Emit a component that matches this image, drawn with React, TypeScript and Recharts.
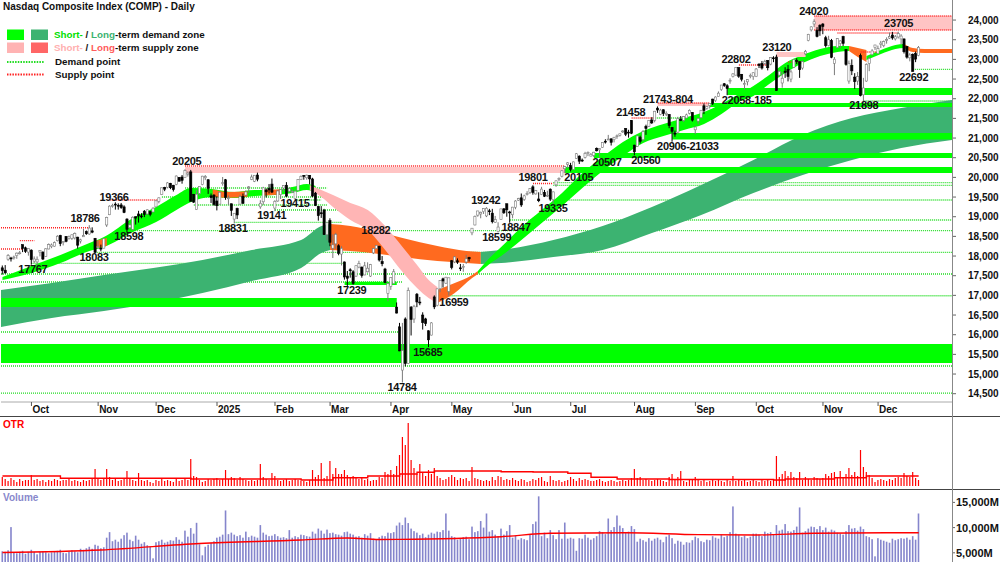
import React from 'react';
import { ComposedChart, Bar, Area, Line, XAxis, YAxis, ReferenceArea, ReferenceLine, ReferenceDot } from 'recharts';

const FONT = '"Liberation Sans", Arial, Helvetica, sans-serif';

// ---------- daily candles [open, high, low, close] ----------
const sep24 = [
  [17700,17760,17530,17628],[17640,17770,17550,17573],[17920,18050,17880,18013],[17950,17980,17860,17948],
  [17960,18010,17910,17974],[18010,18090,17930,18074],[18070,18130,18040,18082],[18290,18290,18100,18190],
  [18210,18240,18080,18119],[18100,18190,18010,18189],
];
const oct24 = [
  [18150,18170,17780,17910],[17870,17990,17820,17925],[17850,17990,17767,17918],[18100,18140,17990,18138],
  [18100,18120,17900,17923],[17990,18200,17980,18183],[18180,18320,18170,18292],[18240,18320,18200,18282],
  [18250,18370,18240,18343],[18390,18530,18370,18503],[18520,18540,18250,18316],[18350,18380,18270,18367],
  [18500,18500,18350,18374],[18440,18520,18420,18490],[18450,18550,18410,18540],[18460,18600,18420,18573],
  [18480,18490,18190,18277],[18380,18440,18320,18415],[18490,18690,18490,18519],[18620,18650,18540,18567],
  [18560,18786,18540,18712],[18640,18730,18580,18607],[18450,18460,18083,18095],
];
const nov24 = [
  [18230,18390,18190,18239],[18200,18290,18120,18179],[18200,18460,18200,18439],[18790,19000,18740,18983],
  [19050,19290,19040,19269],[19280,19330,19230,19287],[19320,19366,19180,19298],[19290,19340,19180,19281],
  [19300,19350,19200,19231],[19250,19290,19090,19107],[18940,18960,18598,18680],[18720,18840,18690,18791],
  [18680,19010,18650,18987],[19000,19000,18800,18966],[19070,19150,18850,19016],[19020,19090,18960,19004],
  [19140,19170,18990,19055],[19070,19190,19040,19175],[19130,19150,19010,19060],[19120,19240,19110,19218],
];
const dec24 = [
  [19250,19420,19240,19404],[19390,19490,19340,19480],[19560,19740,19550,19735],[19740,19760,19650,19701],
  [19750,19880,19720,19860],[19850,19860,19700,19737],[19800,19810,19640,19687],[19820,20050,19800,20034],
  [20000,20010,19900,19902],[20010,20060,19840,19926],[20000,20205,20000,20173],[20080,20150,20020,20109],
  [20140,20190,19390,19393],[19560,19580,19350,19372],[19180,19690,19170,19573],[19590,19770,19530,19764],
  [19820,20040,19800,20031],[19990,20060,19930,20020],[19940,19950,19580,19722],[19530,19590,19350,19487],
  [19550,19570,19280,19311],
];
const jan25 = [
  [19400,19520,19160,19280],[19320,19640,19310,19622],[19850,20010,19790,19864],[19940,19960,19430,19490],
  [19460,19540,19300,19479],[19330,19330,19020,19162],[18940,19090,18831,19088],[19210,19230,18940,19044],
  [19320,19560,19310,19511],[19520,19590,19330,19339],[19550,19670,19520,19630],[19740,19780,19600,19757],
  [19950,20070,19930,20009],[19900,20060,19880,20054],[20060,20120,19900,19954],[19250,19420,19200,19342],
  [19380,19760,19300,19734],[19680,19720,19490,19633],[19720,19830,19590,19681],[19830,19970,19600,19627],
];
const feb25 = [
  [19220,19420,19141,19392],[19400,19680,19380,19654],[19560,19700,19450,19692],[19730,19800,19640,19791],
  [19800,19880,19500,19523],[19650,19740,19620,19714],[19640,19700,19600,19643],[19460,19670,19415,19649],
  [19670,19950,19660,19945],[19940,20050,19940,20027],[20050,20060,19940,20041],[19990,20070,19940,20056],
  [20050,20060,19820,19962],[19960,19990,19500,19524],[19600,19630,19270,19286],[19260,19270,18900,19026],
  [19100,19270,18970,19075],[19170,19200,18540,18544],[18540,18850,18400,18847],
];
const mar25 = [
  [18900,18960,18250,18350],[18200,18550,17950,18285],[18310,18590,18180,18553],[18260,18300,18020,18069],
  [18050,18250,17760,18196],[17850,17860,17400,17468],[17490,17620,17239,17436],[17650,17690,17450,17648],
  [17600,17640,17270,17303],[17490,17760,17470,17754],[17720,17880,17690,17808],[17720,17730,17450,17504],
  [17520,17850,17510,17751],[17600,17840,17580,17691],[17490,17800,17470,17784],[18080,18200,18050,18189],
  [18190,18282,18180,18272],[18250,18260,17860,17899],[17860,18000,17740,17804],[17670,17700,17310,17323],
  [17050,17320,16850,17299],
];
const apr25 = [
  [17230,17460,17140,17450],[17300,17670,17290,17601],[16700,16820,16540,16551],[16200,16300,15580,15588],
  [15100,16300,14784,15603],[16400,16440,15195,15268],[15270,17200,15260,17125],[16700,16730,15980,16387],
  [16400,16760,16300,16724],[17030,17060,16700,16832],[16830,16960,16750,16824],[16500,16570,16130,16307],
  [16400,16430,16220,16287],[16100,16110,15685,15870],[15990,16320,15980,16300],[16960,17000,16650,16708],
  [16750,17170,16720,17166],[17170,17390,17080,17383],[17420,17450,17200,17366],[17310,17470,17290,17462],
  [17100,17450,16990,17446],
];
const may25 = [
  [17880,17900,17660,17711],[17850,18000,17820,17978],[17880,17940,17800,17844],[17700,17800,17620,17690],
  [17730,17800,17600,17738],[17850,18030,17800,17929],[17960,17980,17860,17929],[18590,18710,18530,18708],
  [18790,19030,18780,19010],[19040,19150,19000,19146],[19070,19130,18960,19112],[19130,19220,19070,19211],
  [19020,19242,18990,19215],[19150,19200,19040,19143],[19090,19200,18830,18873],[18860,19020,18840,18925],
  [18620,18860,18599,18737],[18930,19200,18920,19199],[19200,19220,19070,19101],[19330,19330,19000,19175],
  [19120,19150,18847,19114],
];
const jun25 = [
  [19050,19250,18960,19243],[19240,19420,19190,19399],[19420,19480,19400,19460],[19480,19590,19250,19299],
  [19440,19560,19400,19530],[19580,19650,19540,19591],[19620,19730,19580,19715],[19760,19801,19560,19615],
  [19580,19680,19560,19662],[19450,19620,19370,19407],[19560,19760,19550,19701],[19620,19680,19500,19521],
  [19530,19660,19500,19546],[19700,19720,19400,19447],[19430,19640,19335,19631],[19810,19920,19760,19913],
  [19960,20000,19900,19973],[20030,20180,20000,20168],[20220,20290,20105,20273],[20330,20390,20240,20369],
];
const jul25 = [
  [20300,20370,20150,20203],[20200,20400,20190,20394],[20480,20620,20470,20601],[20540,20560,20340,20412],
  [20440,20480,20390,20418],[20510,20650,20480,20611],[20620,20660,20540,20630],[20540,20620,20540,20586],
  [20560,20650,20520,20640],[20740,20760,20660,20677],[20700,20740,20507,20730],[20760,20890,20750,20885],
  [20920,20970,20860,20896],[20960,21080,20950,20974],[20980,20990,20810,20892],[20960,21030,20890,21020],
  [21050,21090,20980,21057],[21070,21110,21040,21108],[21170,21200,21130,21179],[21240,21250,21050,21098],
  [21150,21210,21010,21130],[21450,21458,21100,21122],
];
const aug25 = [
  [20820,20830,20560,20650],[20790,21060,20780,21053],[21010,21060,20860,20916],[20960,21200,20920,21169],
  [21300,21340,21080,21243],[21300,21460,21280,21450],[21460,21530,21360,21385],[21450,21690,21400,21682],
  [21760,21804,21640,21713],[21600,21743,21580,21710],[21720,21730,21560,21623],[21600,21680,21560,21630],
  [21600,21610,21250,21315],[21270,21280,20906,21172],[21130,21190,21033,21100],[21150,21540,21110,21496],
  [21480,21560,21430,21449],[21450,21560,21410,21544],[21510,21620,21500,21590],[21630,21730,21600,21705],
  [21650,21660,21420,21456],
];
const sep25 = [
  [21210,21300,21100,21280],[21430,21510,21350,21498],[21520,21710,21500,21707],[21820,21880,21610,21700],
  [21750,21820,21720,21799],[21830,21880,21750,21879],[21990,22000,21840,21886],[21950,22060,21920,22043],
  [22060,22185,22058,22141],[22230,22350,22200,22348],[22380,22400,22300,22333],[22330,22370,22090,22261],
  [22450,22520,22380,22470],[22560,22650,22540,22631],[22600,22800,22590,22789],[22790,22802,22530,22573],
  [22620,22630,22440,22497],[22360,22470,22230,22384],[22430,22500,22340,22484],[22580,22640,22520,22591],
  [22560,22670,22480,22660],
];
const oct25 = [
  [22560,22780,22550,22755],[22880,22900,22780,22845],[22900,22960,22740,22780],[22900,22990,22850,22942],
  [22970,22980,22720,22788],[22880,23050,22850,23043],[23040,23080,22930,23024],[23060,23120,22200,22204],
  [22600,22720,22550,22695],[22400,22680,22280,22521],[22700,22800,22530,22670],[22750,22860,22440,22562],
  [22500,22740,22420,22680],[22800,23010,22780,22991],[22970,23030,22880,22953],[22940,22950,22530,22740],
  [22780,22970,22740,22942],[23140,23240,23110,23205],[23480,23650,23460,23637],[23750,23840,23710,23827],
  [23900,24020,23820,23958],[23740,23820,23560,23581],[23870,23890,23600,23725],
];
const nov25 = [
  [23900,23920,23640,23835],[23550,23600,23300,23349],[23350,23600,23330,23499],[23480,23520,23030,23054],
  [22900,23060,22600,23005],[23300,23540,23280,23528],[23400,23490,23290,23468],[23580,23600,23340,23406],
  [23250,23260,22840,22871],[22450,22970,22380,22901],[22850,23000,22600,22708],[22550,22650,22250,22433],
  [22450,22680,22350,22564],[23100,23150,22060,22078],[22100,22530,21898,22273],[22450,22900,22430,22872],
  [22900,23070,22700,23025],[23120,23260,23100,23215],[23300,23370,23240,23366],
];
const dec25 = [
  [23150,23350,23140,23276],[23380,23470,23290,23414],[23350,23480,23310,23454],[23500,23560,23400,23505],
  [23540,23680,23520,23578],[23620,23700,23500,23545],[23520,23620,23480,23576],[23570,23705,23530,23654],
  [23520,23640,23380,23593],[23520,23530,23150,23195],[23330,23340,23020,23057],[23040,23160,22950,23111],
  [23130,23150,22692,22693],[23150,23200,22930,23006],[23100,23340,23080,23307],
];

// ---------- OTR (panel units) ----------
const otrValues = [
  9,7,5,8,6,4,7,5,6,6,
  11,6,7,5,6,4,6,5,7,6,5,6,6,7,5,6,5,4,6,5,6,8,17,
  7,6,8,17,9,6,7,5,6,7,15,7,6,5,13,6,5,6,4,3,
  6,5,7,5,6,5,4,7,5,6,7,6,27,10,9,6,4,5,7,6,7,
  8,6,7,16,7,9,8,6,9,7,6,5,6,5,6,22,9,7,6,13,
  10,6,5,6,7,5,6,7,6,5,5,4,6,16,9,11,23,8,10,
  25,12,18,12,12,16,11,9,10,8,7,9,6,7,5,6,6,9,8,14,12,
  16,12,20,31,49,41,63,26,18,12,22,14,10,16,12,18,10,8,6,7,9,
  11,9,6,8,7,8,5,19,8,7,6,5,6,5,9,6,10,9,6,7,6,
  8,6,5,7,6,4,5,7,6,8,9,5,4,10,6,5,6,4,5,6,
  9,7,5,8,6,7,6,5,5,6,7,5,4,5,6,5,4,5,6,5,6,8,
  17,8,9,6,7,6,5,6,7,6,5,4,9,12,6,9,15,5,4,6,7,
  9,6,5,6,4,5,6,5,6,5,4,6,5,10,5,6,5,6,4,5,6,
  5,4,6,5,6,5,6,30,9,12,15,10,14,9,8,14,6,9,7,6,9,8,7,
  8,12,10,13,14,9,15,9,12,18,11,14,10,36,19,14,11,8,4,
  6,7,6,5,7,6,8,9,8,13,10,9,14,8,6,
];
const otrAverage = [[0,10],[20,7.7],[65,7],[103,6],[114,8.3],[126,10],[137,12],[143,13.7],[149,15],[172,14.3],[183,14],[195,12.7],[203,8.7],[212,7],[230,6.5],[266,6],[270,7],[287,8.3],[298,10],[316,10]];

// ---------- Volume (millions) ----------
const volumeValues = [
  5300,5200,5500,10100,5000,4900,5200,5400,4800,5200,
  5600,5200,4700,5200,5300,5100,4900,5100,5200,5400,5600,5000,4900,5200,5500,5300,5100,5800,5600,5900,6200,5800,6600,
  6400,5900,6100,8000,9100,7300,7600,7200,7800,8500,9000,7600,7300,8400,7600,6800,7100,6500,6200,3900,
  7100,7300,7600,7000,7200,7500,7400,8100,7600,7200,9400,8200,9900,8800,10950,6700,4500,6200,6600,7000,7300,
  8000,8200,8600,13400,8700,9000,8600,8300,8500,8000,9200,8100,8400,8200,8000,10500,9000,8600,8300,8400,
  8700,8300,8000,8100,7900,9500,8000,8300,8100,8600,8500,8300,8200,9200,8800,9800,9400,8800,9600,
  8900,9000,8700,8600,8400,9100,9200,8800,8600,8200,8300,8000,8700,8400,8900,7800,7600,8100,8400,8300,9000,
  8900,9100,10400,11000,10500,12000,10900,9800,9300,9000,8500,8800,8100,8600,9000,8800,9200,9100,9500,12800,9400,
  8300,8100,7600,7800,8100,8200,7700,10200,9100,9300,11300,10000,12800,9200,9500,8600,8300,9800,8600,9300,10500,
  8000,8400,7600,7900,7700,7500,8700,10700,11200,16200,8300,9000,7900,9500,8500,7700,9500,7800,11000,7800,
  8000,7800,5400,7900,7800,8600,8000,7600,7900,8300,9300,9100,8700,11800,9500,10100,12400,10400,9900,9000,9200,10300,
  9700,7200,7800,7500,7200,7900,7400,7800,8000,7600,7100,8200,8600,7900,6800,7400,7200,6600,7100,7000,7500,
  8200,7900,7300,7100,7600,7500,8300,8000,7800,8600,8100,8400,9100,14200,8800,8500,8100,8400,7900,8200,8800,
  8800,8600,8300,9200,8900,9100,8700,10500,9400,9600,10700,9300,9200,9500,10200,14000,9000,9300,9800,10200,10100,9700,10300,
  9500,10000,9200,9600,9400,9000,8800,8600,9300,10500,9800,9900,9400,10200,9700,8300,8100,7700,4300,
  7900,7600,7400,7200,7000,7800,7500,7700,7900,7800,8000,7600,8300,7600,12800,
];
const volumeAverage = [[0,5050],[34,5550],[68,6840],[103,7540],[119,7950],[130,7650],[137,7670],[172,8190],[189,8870],[215,8990],[240,8600],[260,8530],[280,8870],[316,8990]];

// ---------- axis labels ----------
const monthStarts = [10,33,53,74,94,113,134,155,176,196,218,239,260,283,302];
const monthLabels = ['Oct','Nov','Dec','2025','Feb','Mar','Apr','May','Jun','Jul','Aug','Sep','Oct','Nov','Dec'];
const priceTicks = [14500,15000,15500,16000,16500,17000,17500,18000,18500,19000,19500,20000,20500,21000,21500,22000,22500,23000,23500,24000];
const volumeTicks = [5000,10000,15000];

// ---------- moving zones [index, low, high] ----------
const longDemandEarly = [[-0.5,16196,17136],[17,16425,17315],[35,16603,17518],[52,16806,17696],[69,17060,17899],[86,17365,18154],[103,17696,18408],[110,18077,18764],[113,18154,18815]];
const longSupply = [[113,18154,18815],[120,18128,18764],[130,18052,18611],[138,17976,18459],[150,17874,18255],[160,17823,18128],[165,17798,18103]];
const longDemandLate = [[165,17798,18103],[172,17823,18154],[190,17976,18408],[207,18154,18764],[224,18586,19247],[241,19044,19806],[259,19603,20442],[276,20061,21077],[293,20442,21510],[310,20747,21764],[327.5,20950,21967]];
const shortDemandA = [[0,17391,17467],[10,17569,17747],[20,17823,18026],[30,18128,18331],[35,18230,18484],[45,18611,18967],[53,18865,19247],[60,19171,19552],[65,19374,19730],[72,19501,19705],[80,19476,19628],[87,19527,19679],[94,19552,19679],[100,19603,19755],[105,19679,19832],[108,19628,19781]];
const shortTurnA = [[32,18200,18380],[34,18220,18420],[36,18260,18460]];
const shortTurnB = [[72.5,19505,19690],[78,19480,19630],[84.5,19510,19650]];
const shortTurnC = [[90,19540,19685],[93,19555,19690],[96,19565,19700]];
const shortSupply = [[106,19679,19806],[110,19501,19679],[114,19247,19552],[120,18916,19349],[126,18662,19171],[132,18154,18764],[138,17594,18230],[143,17187,17772],[147,16933,17391],[150,16806,17213]];
const shortTurnD = [[150,16806,17136],[156,17060,17315],[162,17442,17518],[164,17543,17620]];
const shortDemandB = [[164,17543,17620],[168,17798,17950],[172,18001,18230],[179,18408,18738],[186,18840,19171],[193,19272,19603],[200,19730,20111],[207,20162,20518],[214,20544,20899],[221,20874,21179],[228,21052,21357],[235,21205,21510],[242,21357,21662],[248,21611,21866],[254,21917,22120],[259,22069,22323],[264,22349,22578],[270,22654,22908],[276,22908,23112],[282,23086,23264],[288,23188,23340],[292,23213,23340]];
const shortTurnE = [[292,23213,23340],[295,23061,23290],[298,22934,23239]];
const shortDemandC = [[298,22984,23086],[303,23137,23239],[308,23264,23366],[311,23290,23391]];
const shortTurnF = [[311,23290,23391],[314,23188,23290],[318,23162,23264],[327.5,23162,23264]];

// ---------- fixed zones [from, to, low, high] ----------
const demandZones = [[-0.5,136,16704,16933],[-0.5,327.5,15280,15763],[250,327.5,22095,22273],[244,327.5,21789,21891],[231,327.5,20963,21128],[204,327.5,20493,20620],[194,327.5,20111,20264],[118,136,17264,17348]];
const supplyZones = [[63,194,20111,20264],[280,327.5,23747,24103],[267,277,23061,23188],[226,244,21815,21891]];

// ---------- points [level, from, to] ----------
const demandPoints = [[14517,-0.5,327.5],[15204,-0.5,327.5],[16069,-0.5,137],[16990,149,327.5],[17340,-0.5,138],[17543,-0.5,327.5],[17815,10,118],[18095,32,327.5],[18645,43,327.5],[18858,80,117],[18916,175,327.5],[19171,94,116],[19425,101,110],[19425,190,327.5],[19865,190,327.5],[19799,190,327.5],[21942,297,327.5],[22748,314,327.5],[19501,55,112],[19298,66,112],[21510,225,240],[19730,63,112]];
const supplyPoints = [[18179,-0.5,7],[18720,-0.5,30],[18390,6,11],[19425,37,54],[20289,63,194],[19844,183,190],[21510,217,225],[22857,254,264],[22934,271,276],[23671,288,309],[23188,296,302],[24103,280,327.5],[23747,280,327.5],[21891,226,244]];

// ---------- labels [text, index, level] ----------
const peakLabels: [string, number, number][] = [
  ['17767',10.5,17569],['18786',28.5,18865],['18083',31.6,17874],['19366',38.5,19399],['18598',43.6,18408],
  ['20205',63.6,20315],['18831',79.5,18611],['19141',92.9,18942],['19415',100.9,19247],['18282',128.8,18560],
  ['17239',120.5,17035],['14784',137.8,14568],['15685',146.7,15458],['16959',155.7,16730],['19242',166.7,19323],
  ['18599',170.5,18382],['18847',177.1,18637],['19801',183,19908],['19335',189.9,19120],['20105',198.8,19908],
  ['20507',208.5,20289],['20560',221.9,20340],['21458',216.7,21561],['21743-804',229.5,21891],['20906-21033',236.4,20696],
  ['22058-185',256.7,21866],['22802',253,22908],['23120',267.1,23213],['24020',279.8,24129],['23705',309.1,23824],
  ['21898',297.1,21739],['22692',314.3,22451],
];

const candles = [...sep24, ...oct24, ...nov24, ...dec24, ...jan25, ...feb25, ...mar25, ...apr25, ...may25, ...jun25, ...jul25, ...aug25, ...sep25, ...oct25, ...nov25, ...dec25];
const SLOTS = 328;
const rows = Array.from({ length: SLOTS }, (_, i) => {
  const k = candles[i];
  return k ? { i, o: k[0], h: k[1], l: k[2], c: k[3], otr: otrValues[i], vol: volumeValues[i] } : { i };
});
const toBand = (knots: number[][]) => knots.map(([i, lo, hi]) => ({ i, v: [lo, hi] }));
const toLine = (knots: number[][]) => knots.map(([i, v]) => ({ i, v }));

const GREEN = '#00FF00';
const DARK_GREEN = '#3CB371';
const ORANGE = '#FF6A1F';
const PINK = '#FFB5B5';

const bands = [
  { d: longDemandEarly, c: DARK_GREEN }, { d: longSupply, c: ORANGE }, { d: longDemandLate, c: DARK_GREEN },
  { d: shortDemandA, c: GREEN }, { d: shortTurnA, c: ORANGE }, { d: shortTurnB, c: ORANGE }, { d: shortTurnC, c: ORANGE },
  { d: shortSupply, c: PINK }, { d: shortTurnD, c: ORANGE }, { d: shortDemandB, c: GREEN }, { d: shortTurnE, c: ORANGE },
  { d: shortDemandC, c: GREEN }, { d: shortTurnF, c: ORANGE },
];

const Candle = (props: any) => {
  const { x, y, width, height, payload } = props;
  if (!payload || payload.h == null || x == null || y == null) return null;
  const { o, h, l, c } = payload;
  const cx = x + width / 2;
  const span = h - l;
  const py = (v: number) => (span > 0 ? y + ((h - v) / span) * height : y);
  const up = c >= o;
  const top = py(Math.max(o, c));
  const bot = py(Math.min(o, c));
  const col = up ? '#7a7a7a' : '#000';
  return (
    <g>
      <line x1={cx} x2={cx} y1={y} y2={y + height} stroke={col} strokeWidth={1} />
      <rect x={cx - 1.1} y={top} width={2.2} height={Math.max(bot - top, 0.9)} fill={up ? '#fff' : '#000'} stroke={col} strokeWidth={0.6} />
    </g>
  );
};

const OtrBar = (props: any) => {
  const { x, y, width, height } = props;
  if (x == null || !height) return null;
  return <rect x={x + width / 2 - 0.6} y={y} width={1.2} height={height} fill="#FF0000" />;
};
const VolBar = (props: any) => {
  const { x, y, width, height } = props;
  if (x == null || !height) return null;
  return <rect x={x + width / 2 - 0.8} y={y} width={1.6} height={height} fill="#8585CC" />;
};

const MonthTick = (props: any) => {
  const { x, y, payload } = props;
  const k = monthStarts.indexOf(payload.value);
  return (
    <text x={x + 1} y={y + 5} fontSize={10} fontWeight="bold" fontFamily={FONT} fill="#111" textAnchor="start">
      {k >= 0 ? monthLabels[k] : ''}
    </text>
  );
};
const PriceTick = (props: any) => {
  const { x, y, payload } = props;
  return (
    <text x={x} y={y + 3.6} fontSize={10} fontWeight="bold" fontFamily={FONT} fill="#111" textAnchor="start">
      {Number(payload.value).toLocaleString('en-US')}
    </text>
  );
};
const VolTick = (props: any) => {
  const { x, y, payload } = props;
  return (
    <text x={x} y={y + 4} fontSize={11} fontWeight="bold" fontFamily={FONT} fill="#111" textAnchor="start">
      {Number(payload.value).toLocaleString('en-US') + 'M'}
    </text>
  );
};

const PRICE_DOMAIN = [14289, 24510];

function MainChart() {
  return (
    <ComposedChart width={1000} height={418} data={rows} margin={{ top: 0, right: 0, bottom: 0, left: 1 }}>
      <XAxis xAxisId="num" dataKey="i" type="number" domain={[-0.5, 327.5]} allowDataOverflow ticks={monthStarts} interval={0}
        height={16} tickSize={4} tickLine={{ stroke: '#555' }} axisLine={{ stroke: '#aaa' }} tick={<MonthTick />} />
      <XAxis xAxisId="cat" dataKey="i" type="category" hide height={0} />
      <YAxis orientation="right" width={48} domain={PRICE_DOMAIN} allowDataOverflow ticks={priceTicks} interval={0}
        tickSize={4} tickMargin={12} tickLine={{ stroke: '#666' }} axisLine={false} tick={<PriceTick />} />

      {demandPoints.map((p, k) => (
        <ReferenceLine key={'dp' + k} xAxisId="num" zIndex={10} ifOverflow="visible"
          segment={[{ x: p[1], y: p[0] }, { x: p[2], y: p[0] }]} stroke="#22DD22" strokeWidth={1.3} strokeDasharray="1 1" />
      ))}

      {bands.map((b, k) => (
        <Area key={'band' + k} xAxisId="num" data={toBand(b.d)} dataKey="v" type="monotone" stroke="none" fill={b.c}
          fillOpacity={1} dot={false} activeDot={false} isAnimationActive={false} zIndex={20 + k} />
      ))}

      {demandZones.map((z, k) => (
        <ReferenceArea key={'dz' + k} xAxisId="num" x1={z[0]} x2={z[1]} y1={z[2]} y2={z[3]} fill={GREEN} fillOpacity={1}
          stroke="none" ifOverflow="visible" zIndex={40} />
      ))}
      {supplyZones.map((z, k) => (
        <ReferenceArea key={'sz' + k} xAxisId="num" x1={z[0]} x2={z[1]} y1={z[2]} y2={z[3]} fill="#FFC4C4" fillOpacity={1}
          stroke="none" ifOverflow="visible" zIndex={50} />
      ))}
      {supplyPoints.map((p, k) => (
        <ReferenceLine key={'sp' + k} xAxisId="num" zIndex={60} ifOverflow="visible"
          segment={[{ x: p[1], y: p[0] }, { x: p[2], y: p[0] }]} stroke="#FF2020" strokeWidth={1.3} strokeDasharray="1 1" />
      ))}

      <Bar xAxisId="cat" dataKey={(d: any) => (d.h == null ? null : [d.l, d.h])} shape={<Candle />} isAnimationActive={false} zIndex={300} />

      {peakLabels.map((lb, k) => (
        <ReferenceDot key={'lb' + k} xAxisId="num" x={lb[1]} y={lb[2]} r={0} ifOverflow="visible" zIndex={2000}
          shape={(p: any) => (
            <text x={p.cx} y={p.cy} textAnchor="middle" fontSize={11} fontWeight="bold" fontFamily={FONT} fill="#111" letterSpacing={-0.3}>
              {lb[0]}
            </text>
          )} />
      ))}
    </ComposedChart>
  );
}

function OtrChart() {
  return (
    <ComposedChart width={1000} height={70} data={rows} margin={{ top: 0, right: 48, bottom: 1, left: 1 }}>
      <XAxis xAxisId="cat" dataKey="i" type="category" hide height={0} />
      <XAxis xAxisId="num" dataKey="i" type="number" domain={[-0.5, 327.5]} allowDataOverflow hide height={0} />
      <YAxis domain={[0, 69]} allowDataOverflow hide />
      <Bar xAxisId="cat" dataKey="otr" shape={<OtrBar />} isAnimationActive={false} />
      <Line xAxisId="num" data={toLine(otrAverage)} dataKey="v" type="stepAfter" stroke="#FF0000" strokeWidth={1.4}
        dot={false} activeDot={false} isAnimationActive={false} />
    </ComposedChart>
  );
}

function VolumeChart() {
  return (
    <ComposedChart width={1000} height={90} data={rows} margin={{ top: 1, right: 0, bottom: 1, left: 1 }}>
      <XAxis xAxisId="cat" dataKey="i" type="category" hide height={0} />
      <XAxis xAxisId="num" dataKey="i" type="number" domain={[-0.5, 327.5]} allowDataOverflow hide height={0} />
      <YAxis orientation="right" width={48} domain={[0, 17460]} allowDataOverflow ticks={volumeTicks} interval={0}
        tickSize={3} tickMargin={1} tickLine={{ stroke: '#666' }} axisLine={false} tick={<VolTick />} />
      <Bar xAxisId="cat" dataKey="vol" shape={<VolBar />} isAnimationActive={false} />
      <Line xAxisId="num" data={toLine(volumeAverage)} dataKey="v" type="monotone" stroke="#FF0000" strokeWidth={1.4}
        dot={false} activeDot={false} isAnimationActive={false} />
    </ComposedChart>
  );
}

function Legend() {
  const t = { fontSize: 9.8, fontWeight: 'bold' as const, fontFamily: FONT, fill: '#111' };
  return (
    <svg width={260} height={90} style={{ position: 'absolute', left: 0, top: 0 }}>
      <text x={3} y={10} fontSize={10} fontWeight="bold" fontFamily={FONT} fill="#111">Nasdaq Composite Index (COMP) - Daily</text>
      <rect x={7} y={29.5} width={17} height={10.5} fill={GREEN} />
      <rect x={31} y={29.5} width={17} height={10.5} fill={DARK_GREEN} />
      <text x={54} y={37.8} {...t}>
        <tspan fill="#00E000">Short-</tspan><tspan> / </tspan><tspan fill={DARK_GREEN}>Long</tspan><tspan>-term demand zone</tspan>
      </text>
      <rect x={7} y={42.5} width={17} height={10.5} fill="#FFB3B3" />
      <rect x={31} y={42.5} width={17} height={10.5} fill="#FF6666" />
      <text x={54} y={50.5} {...t}>
        <tspan fill="#FFB0B0">Short-</tspan><tspan> / </tspan><tspan fill="#FF5C5C">Long</tspan><tspan>-term supply zone</tspan>
      </text>
      <line x1={7} x2={44} y1={62} y2={62} stroke="#22DD22" strokeWidth={2} strokeDasharray="1.5 1.2" />
      <text x={55} y={65.2} {...t}>Demand point</text>
      <line x1={7} x2={44} y1={74.5} y2={74.5} stroke="#FF2020" strokeWidth={2} strokeDasharray="1.5 1.2" />
      <text x={55} y={77.5} {...t}>Supply point</text>
    </svg>
  );
}

export default function App() {
  return (
    <div style={{ position: 'fixed', left: 0, top: 0, width: 1000, height: 562, overflow: 'hidden', background: '#fff', fontFamily: FONT }}>
      <div style={{ position: 'absolute', left: 0, top: 0 }}><MainChart /></div>
      <div style={{ position: 'absolute', left: 0, top: 417 }}><OtrChart /></div>
      <div style={{ position: 'absolute', left: 0, top: 489 }}><VolumeChart /></div>
      <div style={{ position: 'absolute', left: 0, top: 416, width: 1000, height: 1, background: '#444' }} />
      <div style={{ position: 'absolute', left: 0, top: 489, width: 1000, height: 1, background: '#444' }} />
      <div style={{ position: 'absolute', left: 952, top: 0, width: 1, height: 562, background: '#888' }} />
      <div style={{ position: 'absolute', left: 3, top: 419, fontSize: 10, fontWeight: 'bold', color: '#FF0000', lineHeight: '12px' }}>OTR</div>
      <div style={{ position: 'absolute', left: 3, top: 492, fontSize: 10, fontWeight: 'bold', color: '#8888CC', lineHeight: '12px' }}>Volume</div>
      <Legend />
    </div>
  );
}
